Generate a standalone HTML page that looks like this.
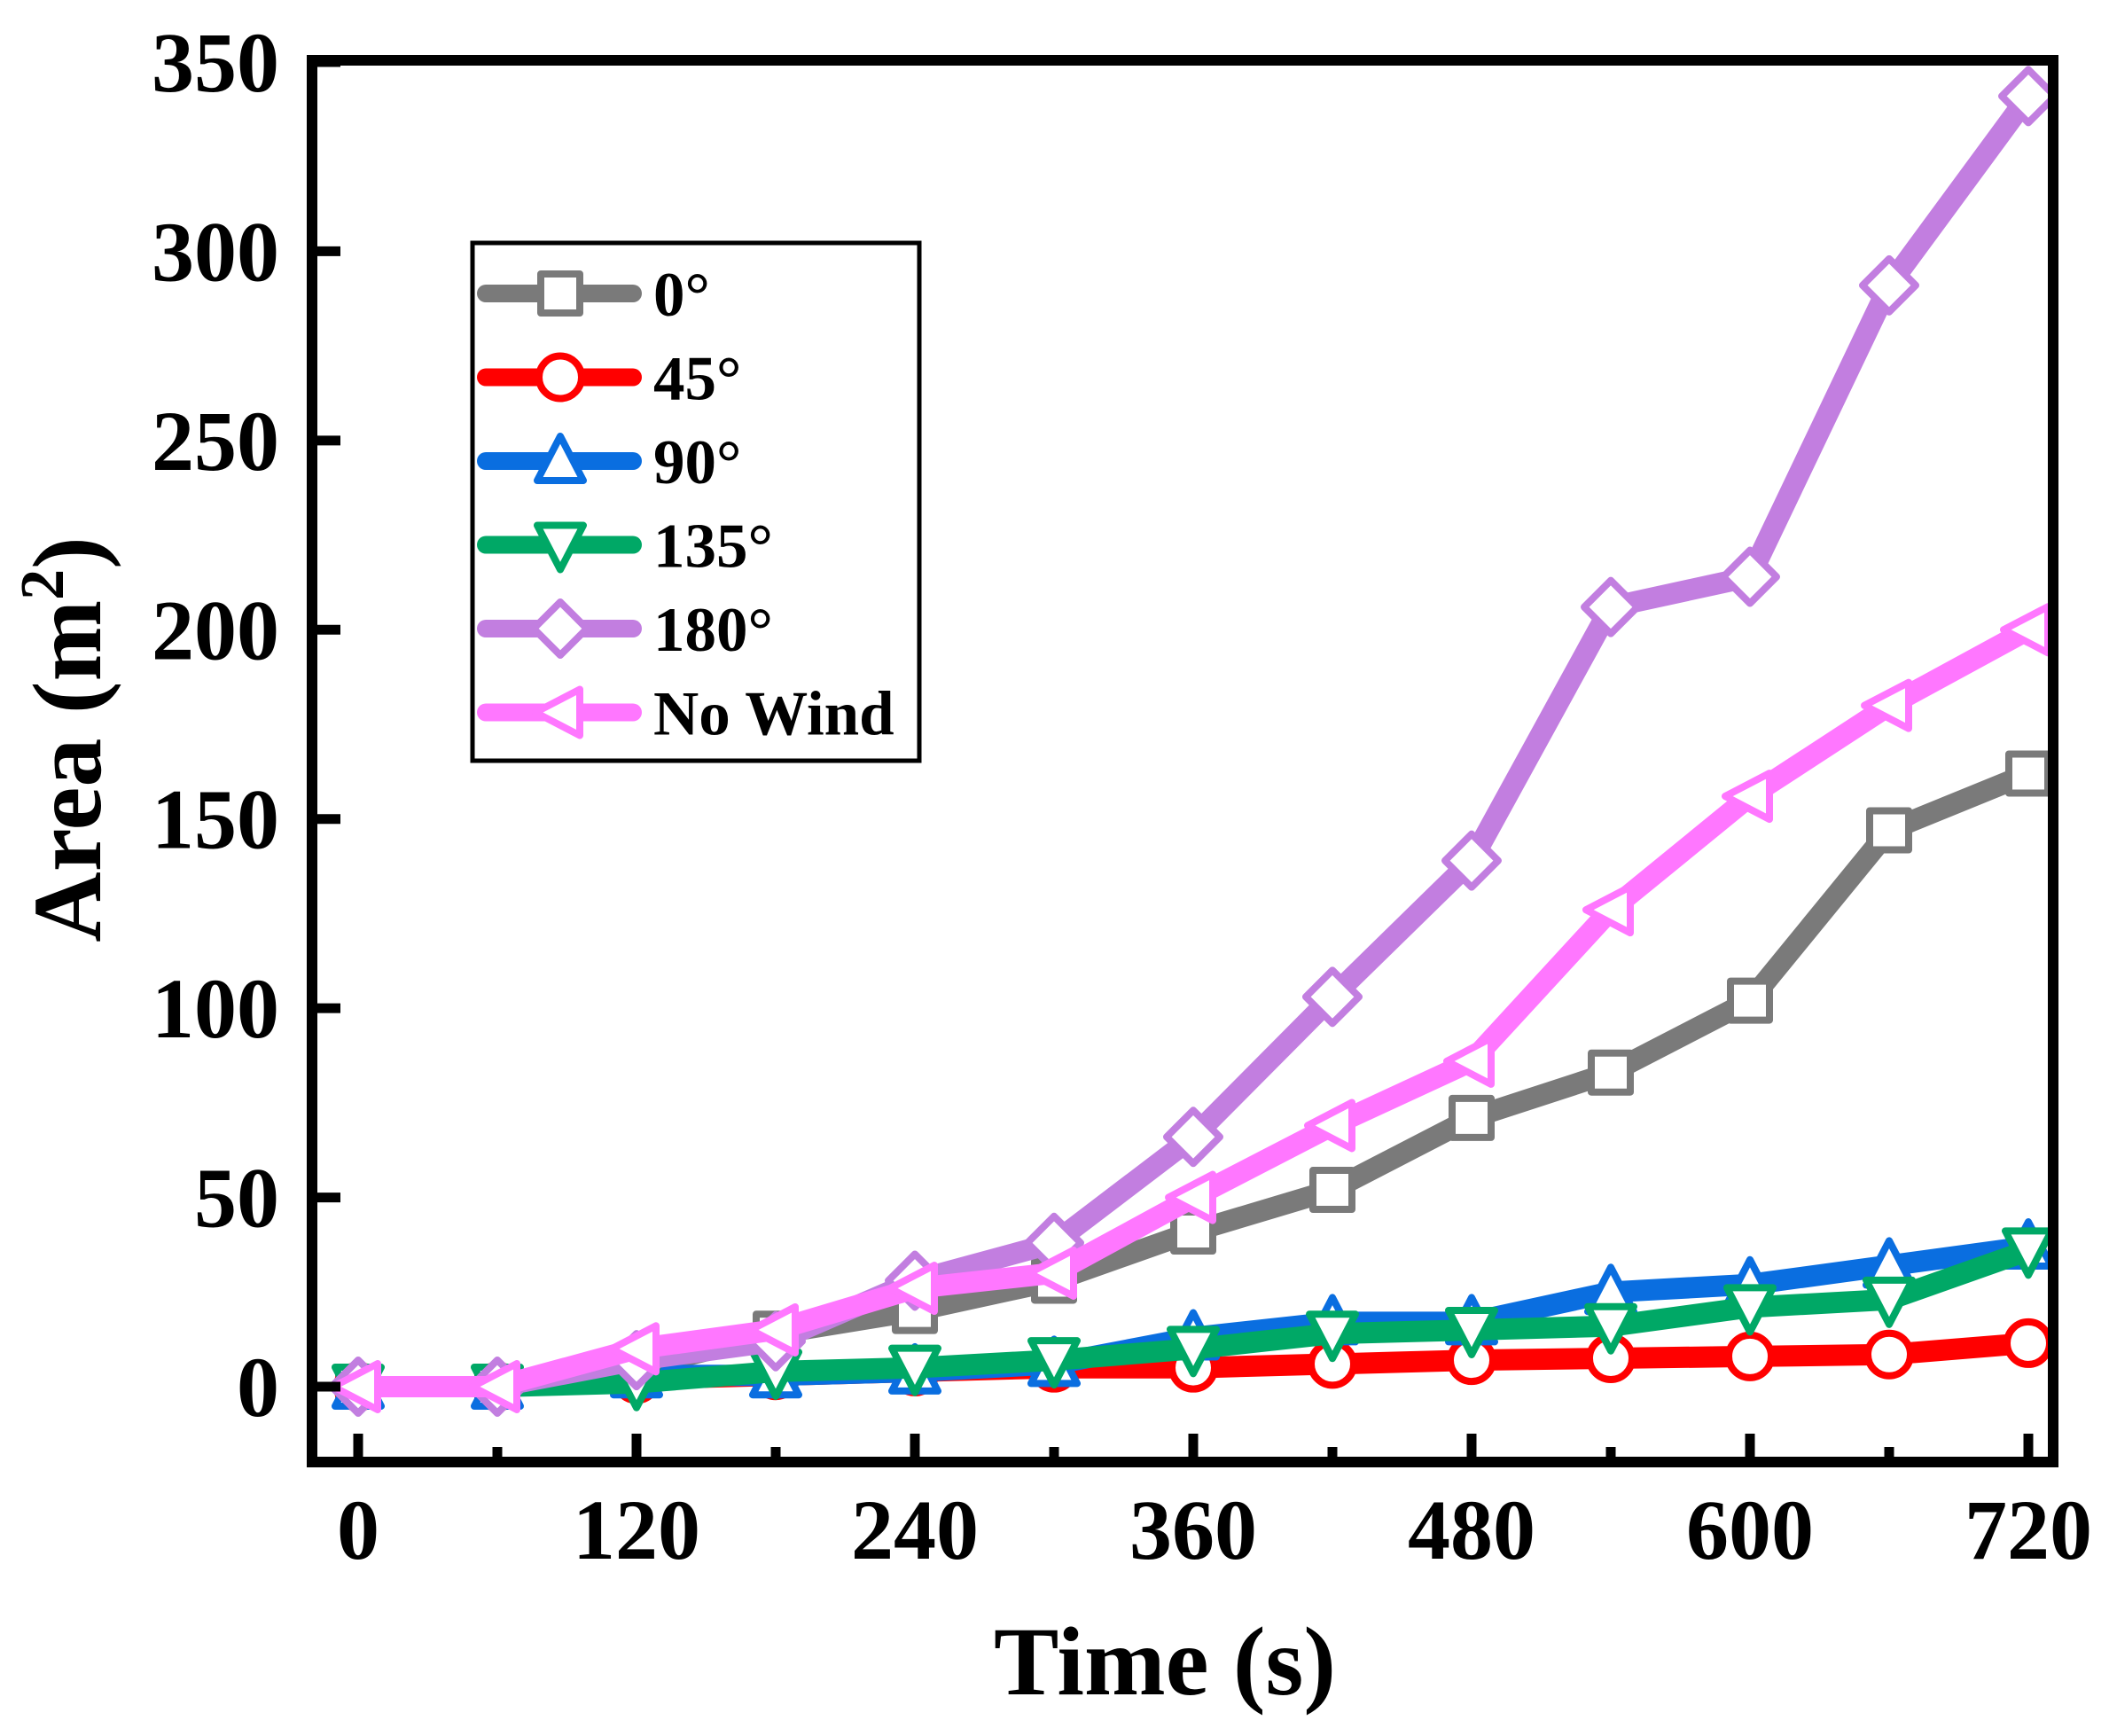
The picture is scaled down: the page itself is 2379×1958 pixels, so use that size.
<!DOCTYPE html>
<html><head><meta charset="utf-8">
<style>
html,body{margin:0;padding:0;background:#fff;}
svg{display:block;font-family:"Liberation Serif",serif;font-weight:bold;}
</style></head>
<body>
<svg id="chart" width="2379" height="1958" viewBox="0 0 2379 1958" xmlns="http://www.w3.org/2000/svg">
<g id="series"></g>
<rect x="352" y="68" width="1964" height="1581" fill="none" stroke="#000" stroke-width="12"/>
<g id="ticks"></g>
<text x="1314" y="1911" font-size="110" text-anchor="middle">Time (s)</text>
<text transform="translate(113,834) rotate(-90)" font-size="110" text-anchor="middle">Area (m<tspan font-size="70" dy="-42">2</tspan><tspan dy="42">)</tspan></text>
<g id="legend">
<rect x="533" y="274" width="504" height="584" fill="#fff" stroke="#000" stroke-width="5"/>
</g>
</svg>
<script>
const times = [0,60,120,180,240,300,360,420,480,540,600,660,720];
const s0 = [0,0,5,14,20,28,41,52,71,83,102,147,162];
const s45 = [0,0,2,3,4,5,5,6,7,7.5,8,8.5,11.5];
const s90 = [0,0,3,3,4,6,13,17,17,25,27,32,37];
const s135 = [0,0,1,4,5,7,10,14,15,16,21,23,36];
const s180 = [0,0,7,12,28,38,66,103,139,206,214,291,341];
const sNoWind = [0,0,10,15,26,30,50,69,86,126,156,180,200];
const seriesNames = ["0°","45°","90°","135°","180°","No Wind"];
const xTicks = [0,120,240,360,480,600,720];
const xMinorTicks = [60,180,300,420,540,660];
const yTicks = [0,50,100,150,200,250,300,350];

const NS = "http://www.w3.org/2000/svg";
const X = t => 404 + (t/60)*157;
const Y = v => 1564 - v*4.2686;
function mk(tag, attrs, parent){
  const e = document.createElementNS(NS, tag);
  for (const k in attrs) e.setAttribute(k, attrs[k]);
  parent.appendChild(e);
  return e;
}
function marker(shape, cx, cy, color, parent){
  const r = 24;
  let e;
  const common = {fill:"#fff", stroke:color, "stroke-width":8, "stroke-linejoin":"round"};
  if (shape==="square") e = mk("rect", Object.assign({x:cx-r+2,y:cy-r+2,width:2*r-4,height:2*r-4}, common), parent);
  else if (shape==="circle") e = mk("circle", Object.assign({cx:cx,cy:cy,r:r}, common), parent);
  else {
    let pts;
    if (shape==="up") pts=[[cx,cy-r-4],[cx+r+2,cy+r-2],[cx-r-2,cy+r-2]];
    else if (shape==="down") pts=[[cx,cy+r+4],[cx+r+2,cy-r+2],[cx-r-2,cy-r+2]];
    else if (shape==="left") pts=[[cx-r-4,cy],[cx+r-2,cy-r-2],[cx+r-2,cy+r+2]];
    else pts=[[cx,cy-r-6],[cx+r+6,cy],[cx,cy+r+6],[cx-r-6,cy]];
    e = mk("polygon", Object.assign({points:pts.map(p=>p.join(",")).join(" ")}, common), parent);
  }
  return e;
}
const allSeries = [s0,s45,s90,s135,s180,sNoWind];
const colors = ["#7a7a7a","#ff0000","#0a6ee0","#00a866","#c27ee0","#ff77ff"];
const shapes = ["square","circle","up","down","diamond","left"];
const keys = ["0","45","90","135","180","no-wind"];
const layer = document.getElementById("series");
allSeries.forEach((vals,i)=>{
  const g = mk("g", {}, layer);
  
  
  const d = vals.map((v,j)=>(j?"L":"M")+X(times[j]).toFixed(1)+","+Y(v).toFixed(1)).join(" ");
  const p = mk("path", {d:d, fill:"none", stroke:colors[i], "stroke-width":24, "stroke-linecap":"round", "stroke-linejoin":"round"}, g);
  
  
  vals.forEach((v,j)=>{
    const m = marker(shapes[i], X(times[j]), Y(v), colors[i], g);
    
    
  });
});
const tg = document.getElementById("ticks");
xTicks.forEach(t=>{
  const l = mk("line", {x1:X(t),x2:X(t),y1:1643,y2:1617,stroke:"#000","stroke-width":11}, tg);
  
  
  const tx = mk("text", {x:X(t), y:1758, "font-size":96, "text-anchor":"middle"}, tg);
  tx.textContent = t;
  
  
});
xMinorTicks.forEach(t=>{
  const l = mk("line", {x1:X(t),x2:X(t),y1:1643,y2:1632,stroke:"#000","stroke-width":11}, tg);
  
  
});
yTicks.forEach(v=>{
  const l = mk("line", {x1:358,x2:384,y1:Y(v),y2:Y(v),stroke:"#000","stroke-width":11}, tg);
  
  
  const tx = mk("text", {x:315, y:Y(v)+33, "font-size":96, "text-anchor":"end"}, tg);
  tx.textContent = v;
  
  
});
const lg = document.getElementById("legend");
seriesNames.forEach((n,i)=>{
  const y = 331 + i*94.5;
  const g = mk("g", {}, lg);
  
  
  mk("line", {x1:548,x2:714,y1:y,y2:y,stroke:colors[i],"stroke-width":20,"stroke-linecap":"round"}, g);
  marker(shapes[i], 632, y, colors[i], g);
  const t = mk("text", {x:737, y:y+25, "font-size":71}, g);
  t.textContent = n;
});
</script>
</body></html>
